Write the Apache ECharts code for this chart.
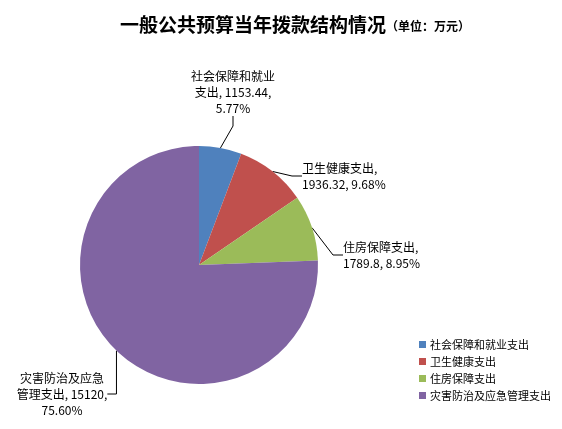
<!DOCTYPE html>
<html>
<head>
<meta charset="utf-8">
<script src="https://cdn.jsdelivr.net/npm/echarts@6/dist/echarts.min.js"></script>
<style>
  html, body { margin: 0; padding: 0; background: #fff; }
  #chart { width: 562px; height: 429px; }
</style>
</head>
<body>
<div id="chart"></div>
<script>
// data
const categories = ['社会保障和就业支出', '卫生健康支出', '住房保障支出', '灾害防治及应急管理支出'];
const values = [1153.44, 1936.32, 1789.8, 15120];
const percents = ['5.77%', '9.68%', '8.95%', '75.60%'];
const colors = ['#4F81BD', '#C0504D', '#9BBB59', '#8064A2'];

// label text broken the way the reference wraps it
const labelTexts = [
    '社会保障和就业\n支出, 1153.44,\n5.77%',
    '卫生健康支出,\n1936.32, 9.68%',
    '住房保障支出,\n1789.8, 8.95%',
    '灾害防治及应急\n管理支出, 15120,\n75.60%'
];

// where each label sits (x, y of the text box anchor)
const labelSpots = [
    {x: 233, y: 92, align: 'center'},
    {x: 302, y: 176, align: 'left'},
    {x: 343, y: 255, align: 'left'},
    {x: 62, y: 394, align: 'center'}
];

const font = '"Noto Sans CJK SC", "Microsoft YaHei", sans-serif';

const chart = echarts.init(document.getElementById('chart'));

const option = {
    animation: false,
    color: colors,
    title: {
        text: '{a|一般公共预算当年拨款结构情况}{b|（单位：万元）}',
        left: 115,
        top: 10,
        textStyle: {
            rich: {
                a: {fontSize: 19, fontWeight: 'bold', color: '#000', fontFamily: font},
                b: {fontSize: 12, fontWeight: 'bold', color: '#000', fontFamily: font, padding: [3, 0, 0, 0]}
            }
        }
    },
    legend: {
        orient: 'vertical',
        left: 414,
        top: 334,
        itemWidth: 7,
        itemHeight: 7,
        itemGap: 6,
        icon: 'rect',
        textStyle: {fontSize: 11, color: '#000', fontFamily: font, padding: [0, 0, 0, -1]},
        data: categories
    },
    series: [{
        type: 'pie',
        center: [199, 265],
        radius: 119,
        startAngle: 90,
        clockwise: true,
        data: categories.map((c, i) => ({name: c, value: values[i]})),
        label: {
            show: true,
            formatter: p => labelTexts[p.dataIndex],
            fontSize: 12,
            lineHeight: 16,
            color: '#000',
            fontFamily: font,
            overflow: 'none'
        },
        labelLine: {
            show: true,
            length: 15,
            length2: 10,
            lineStyle: {color: '#000', width: 1}
        },
        labelLayout: function (params) {
            const s = labelSpots[params.dataIndex];
            return {
                x: s.x,
                y: s.y,
                align: s.align,
                verticalAlign: 'middle'
            };
        },
        emphasis: {disabled: true}
    }]
};

chart.setOption(option);
</script>
</body>
</html>
